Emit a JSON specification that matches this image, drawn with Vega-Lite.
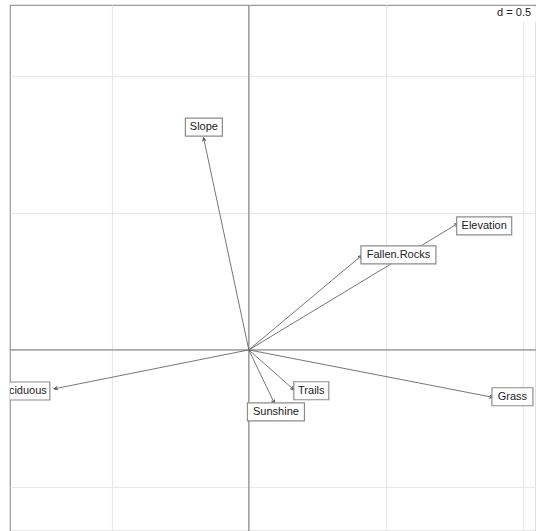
{
  "$schema": "https://vega.github.io/schema/vega-lite/v6.json",
  "width": 526,
  "height": 526,
  "padding": {"left": 10, "top": 5, "right": 0, "bottom": 0},
  "autosize": {"type": "none"},
  "background": "white",
  "config": {
    "view": {"stroke": "#9a9a9a", "strokeWidth": 1.2},
    "font": "Liberation Sans"
  },
  "data": {
    "values": [
      {"label": "Slope", "x": -0.165, "y": 0.774, "lx": -0.164, "ly": 0.813},
      {"label": "Elevation", "x": 0.762, "y": 0.461, "lx": 0.859, "ly": 0.453},
      {"label": "Fallen.Rocks", "x": 0.411, "y": 0.344, "lx": 0.546, "ly": 0.347},
      {"label": "Grass", "x": 0.89, "y": -0.173, "lx": 0.962, "ly": -0.171},
      {"label": "Trails", "x": 0.164, "y": -0.145, "lx": 0.228, "ly": -0.149},
      {"label": "Sunshine", "x": 0.093, "y": -0.194, "lx": 0.099, "ly": -0.226},
      {"label": "Deciduous", "x": -0.71, "y": -0.142, "lx": -0.832, "ly": -0.15}
    ]
  },
  "layer": [
    {
      "data": {"values": [{}]},
      "mark": {"type": "rule", "color": "#777777", "strokeWidth": 1},
      "encoding": {
        "x": {
          "datum": 0,
          "type": "quantitative",
          "scale": {"domain": [-0.8715, 1.048], "nice": false, "zero": false},
          "axis": {
            "values": [-0.5, 0, 0.5, 1],
            "grid": true,
            "gridColor": "#e8e8e8",
            "gridWidth": 1.2,
            "labels": false,
            "ticks": false,
            "domain": false,
            "title": null
          }
        }
      }
    },
    {
      "data": {"values": [{}]},
      "mark": {"type": "rule", "color": "#777777", "strokeWidth": 1},
      "encoding": {
        "y": {
          "datum": 0,
          "type": "quantitative",
          "scale": {"domain": [-0.661, 1.259], "nice": false, "zero": false},
          "axis": {
            "values": [-0.5, 0, 0.5, 1],
            "grid": true,
            "gridColor": "#e8e8e8",
            "gridWidth": 1.2,
            "labels": false,
            "ticks": false,
            "domain": false,
            "title": null
          }
        }
      }
    },
    {
      "mark": {"type": "rule", "color": "#666666", "strokeWidth": 0.9},
      "encoding": {
        "x": {"field": "x", "type": "quantitative"},
        "y": {"field": "y", "type": "quantitative"},
        "x2": {"datum": 0},
        "y2": {"datum": 0}
      }
    },
    {
      "mark": {
        "type": "point",
        "shape": "M-0.5,1L0,0L0.5,1",
        "filled": false,
        "stroke": "#444444",
        "strokeWidth": 1,
        "size": 42,
        "opacity": 1,
        "angle": {"expr": "atan2(datum.x, datum.y) * 180 / PI"}
      },
      "encoding": {
        "x": {"field": "x", "type": "quantitative"},
        "y": {"field": "y", "type": "quantitative"}
      }
    },
    {
      "mark": {
        "type": "rect",
        "clip": true,
        "fill": "white",
        "stroke": "#8c8c8c",
        "strokeWidth": 1.2,
        "height": 18,
        "width": {"expr": "datum.label === 'Slope' ? 37 : datum.label === 'Elevation' ? 55 : datum.label === 'Fallen.Rocks' ? 75 : datum.label === 'Trails' ? 35 : datum.label === 'Sunshine' ? 57 : datum.label === 'Grass' ? 41 : 58"}
      },
      "encoding": {
        "x": {"field": "lx", "type": "quantitative"},
        "y": {"field": "ly", "type": "quantitative"}
      }
    },
    {
      "mark": {"type": "text", "clip": true, "fontSize": 11, "color": "#222222", "align": "center", "baseline": "middle"},
      "encoding": {
        "x": {"field": "lx", "type": "quantitative"},
        "y": {"field": "ly", "type": "quantitative"},
        "text": {"field": "label"}
      }
    },
    {
      "data": {"values": [{}]},
      "mark": {
        "type": "point",
        "shape": "M-1,-0.375H1V0.375H-1Z",
        "filled": true,
        "fill": "white",
        "strokeWidth": 0,
        "opacity": 1,
        "size": 1600
      },
      "encoding": {
        "x": {"datum": 0.987, "type": "quantitative"},
        "y": {"datum": 1.225, "type": "quantitative"}
      }
    },
    {
      "data": {"values": [{}]},
      "mark": {"type": "text", "fontSize": 11, "color": "#222222", "align": "right", "baseline": "middle", "text": "d = 0.5"},
      "encoding": {
        "x": {"datum": 1.03, "type": "quantitative"},
        "y": {"datum": 1.2307, "type": "quantitative"}
      }
    }
  ]
}
